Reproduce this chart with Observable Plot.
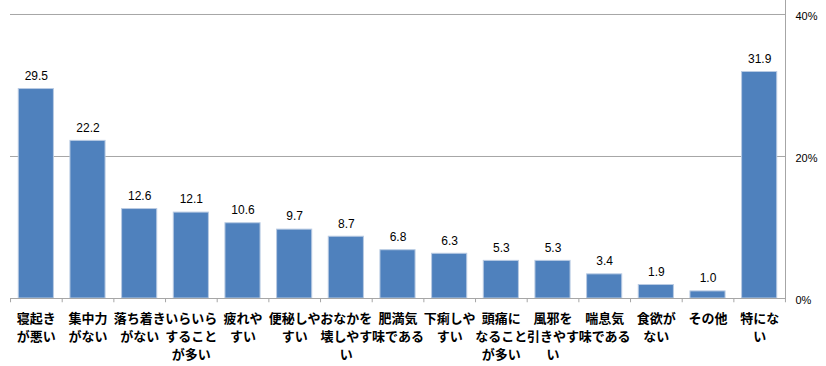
<!DOCTYPE html>
<html><head><meta charset="utf-8">
<script src="https://cdn.jsdelivr.net/npm/d3@7"></script>
<script src="https://cdn.jsdelivr.net/npm/@observablehq/plot@0.6"></script>
<style>
body{margin:0;background:#fff;}
</style></head>
<body><div id="chart"></div>
<script>
const categories = ["寝起きが悪い","集中力がない","落ち着きがない","いらいらすることが多い","疲れやすい","便秘しやすい","おなかを壊しやすい","肥満気味である","下痢しやすい","頭痛になることが多い","風邪を引きやすい","喘息気味である","食欲がない","その他","特にない"];
const labels = ["寝起き\nが悪い","集中力\nがない","落ち着き\nがない","いらいら\nすること\nが多い","疲れや\nすい","便秘しや\nすい","おなかを\n壊しやす\nい","肥満気\n味である","下痢しや\nすい","頭痛に\nなること\nが多い","風邪を\n引きやす\nい","喘息気\n味である","食欲が\nない","その他","特にな\nい"];
const values = [29.5,22.2,12.6,12.1,10.6,9.7,8.7,6.8,6.3,5.3,5.3,3.4,1.9,1.0,31.9];
const yTicks = [0,20,40];

const data = categories.map((c,i)=>({cat:c,label:labels[i],value:values[i]}));
const labelOf = new Map(categories.map((c,i)=>[c,labels[i]]));
const last = categories[categories.length-1];

const chart = Plot.plot({
  width: 826,
  height: 366,
  marginLeft: 10,
  marginRight: 41,
  marginTop: 0,
  marginBottom: 68,
  style: {background:"#fff", fontFamily:"'Liberation Sans', Arial, sans-serif"},
  x: {domain: categories, paddingInner: 0.32, paddingOuter: 0.16, round: false, axis: null},
  y: {domain: [0, 41.97], axis: null},
  marks: [
    Plot.ruleY([20,40], {stroke:"#a6a6a6", strokeWidth:1}),
    Plot.frame({anchor:"right", stroke:"#a6a6a6"}),
    Plot.barY(data, {x:"cat", y:"value", fill:"#4f81bd", stroke:"#b9cbe3", strokeWidth:1}),
    Plot.ruleY([0], {stroke:"#a6a6a6", strokeWidth:1}),
    Plot.ruleX(categories, {x:d=>d, y1:0, y2:-0.6, dx:-25.8, stroke:"#a6a6a6"}),
    Plot.ruleX([last], {x:d=>d, y1:0, y2:-0.6, dx:25.8, stroke:"#a6a6a6"}),
    Plot.text(data, {x:"cat", y:"value", text:d=>d.value.toFixed(1), dy:-13, fontSize:12, fill:"#000"}),
    Plot.axisX({anchor:"bottom", label:null, tickSize:0, tickPadding:12, tickFormat:d=>labelOf.get(d), fontSize:13, fontWeight:"bold", lineHeight:1.38, fontFamily:"'Noto Sans CJK JP', sans-serif", fill:"#000"}),
    Plot.axisY(yTicks, {anchor:"right", label:null, tickSize:0, tickPadding:10, dy:2, tickFormat:d=>d+"%", fontSize:11, fill:"#000"})
  ]
});
document.getElementById("chart").append(chart);
</script>
</body></html>
